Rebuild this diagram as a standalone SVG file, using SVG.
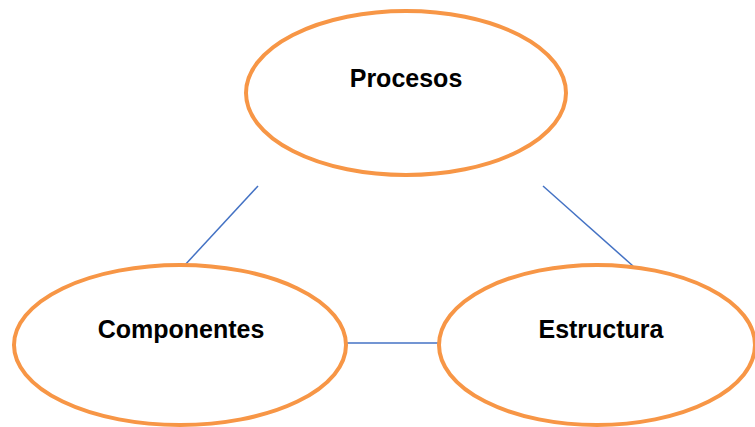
<svg xmlns="http://www.w3.org/2000/svg" width="755" height="427" viewBox="0 0 755 427">
<style>
.node{fill:#ffffff;stroke:#F79646;stroke-width:4}
.lbl{font-family:"Liberation Sans",Arial,sans-serif;font-weight:bold;font-size:25px;fill:#000000;text-anchor:middle}
.conn{stroke:#4472C4;stroke-width:1.5;fill:none}
</style>
<rect width="755" height="427" fill="#ffffff"/>
<g id="connectors">
<line class="conn" x1="258" y1="186" x2="184" y2="266"/>
<line class="conn" x1="543" y1="186" x2="633" y2="266"/>
<line class="conn" x1="347" y1="343" x2="439" y2="343"/>
</g>
<g id="procesos">
<ellipse class="node" cx="406" cy="93" rx="160" ry="82"/>
<text class="lbl" x="406" y="87">Procesos</text>
</g>
<g id="componentes">
<ellipse class="node" cx="180" cy="345" rx="166" ry="80"/>
<text class="lbl" x="181" y="338">Componentes</text>
</g>
<g id="estructura">
<ellipse class="node" cx="597" cy="345" rx="158" ry="80"/>
<text class="lbl" x="601" y="338">Estructura</text>
</g>
</svg>
